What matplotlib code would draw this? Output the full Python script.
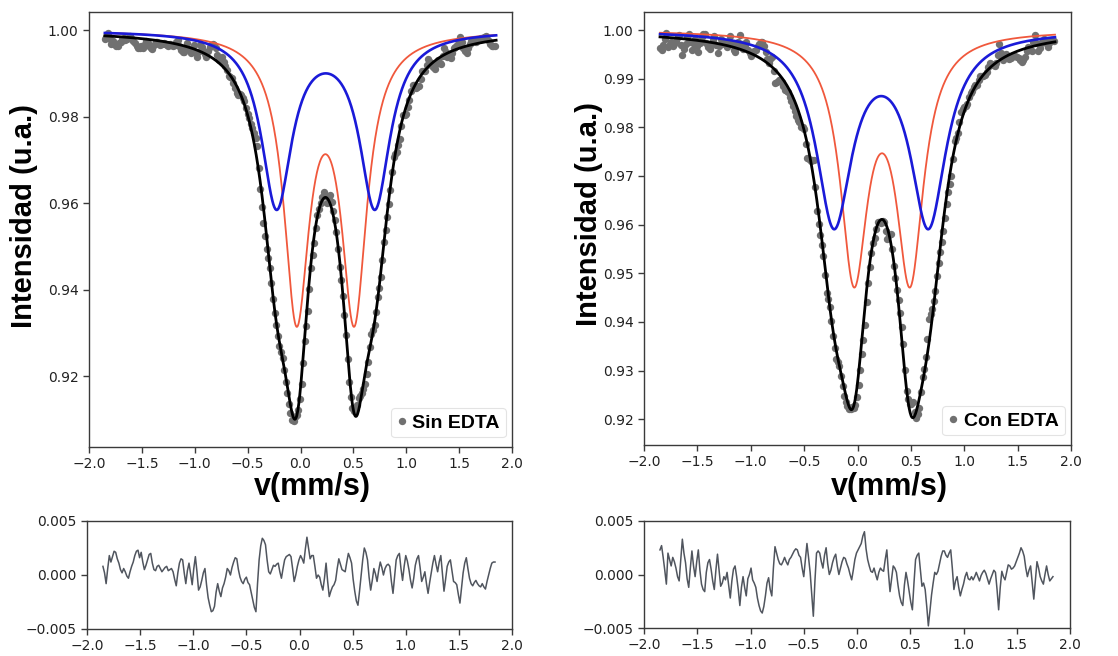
import numpy as np
import matplotlib.pyplot as plt

# ---------------- data ----------------
# velocity channels (mm/s)
velocity = np.round(np.arange(247) * 0.015 - 1.85, 4)

# doublet sub-spectra: line positions (mm/s), depth, half width (mm/s)
sin_red_pos = [-0.037, 0.508]
sin_red_depth = 0.0643
sin_red_hwhm = 0.146
sin_blue_pos = [-0.226, 0.703]
sin_blue_depth = 0.0402
sin_blue_hwhm = 0.175

con_red_pos = [-0.033, 0.492]
con_red_depth = 0.049
con_red_hwhm = 0.155
con_blue_pos = [-0.220, 0.664]
con_blue_depth = 0.039
con_blue_hwhm = 0.203

# fit residuals (fit - measured) in units of 1e-4, one per channel
resid_sin_e4 = [
    8, 2, -8, 6, 18, 12, 17, 22, 21, 15, 11, 5, 2, 6, 3, -1, -3, 3, 8, 12,
    18, 22, 23, 16, 21, 12, 5, 9, 14, 19, 20, 11, 5, 4, 8, 9, 6, 3, 5, 7,
    8, 4, 5, 6, 3, -4, -10, 2, 11, 15, 14, 2, -8, 4, 11, 1, -9, 6, 17, 3,
    -14, -11, -5, 2, 6, -9, -21, -28, -34, -33, -29, -16, -8, -15, -20, -12, -8, -2, 6, 4,
    0, 7, 12, 16, 15, 5, -2, -6, -8, -4, -2, -7, -9, -16, -23, -30, -34, -8, 14, 27,
    34, 32, 28, 14, 3, 1, 5, 9, 8, 10, 11, 3, -3, 6, 14, 17, 18, 19, 17, 6,
    -6, 0, 8, 14, 18, 15, 11, 24, 35, 25, 15, 18, 18, 8, -3, 0, -2, -9, -14, -3,
    11, -6, -20, -15, -11, -9, -5, 6, 15, 10, 5, 4, 3, 12, 20, 16, 11, -4, -15, -24,
    -28, -15, 0, 14, 25, 21, 14, -2, -14, -5, 6, 1, -6, 4, 12, 7, 0, 6, 9, 10,
    8, -6, -17, -2, 14, 18, 20, 6, -5, 8, 18, 13, 5, -5, -12, -3, 9, 15, 18, 7,
    -6, -2, 3, -8, -17, -7, 2, 11, 18, 10, 3, 12, 18, 2, -15, -4, 8, 12, 14, 4,
    -6, -7, -9, -18, -26, -12, 2, 11, 16, 6, -3, -8, -10, -7, -5, -8, -10, -11, -8, -11,
    -13, -6, 0, 6, 11, 12, 12,
]
resid_con_e4 = [
    23, 27, 16, 4, -9, 20, 14, 8, 16, 12, 6, -2, -6, 14, 33, 20, 11, -4, -12, 6,
    22, 8, -2, 12, 23, 4, -9, -14, -16, 2, 11, 14, 5, -6, -14, 4, 19, 4, -11, -8,
    -2, -5, 2, -10, -22, -6, 5, 8, -2, -14, -29, -12, -2, -12, -20, -4, 0, 6, -5, -8,
    -12, -22, -29, -34, -36, -30, -20, -8, -3, -14, -20, 6, 26, 20, 14, 10, 9, 12, 16, 12,
    9, 14, 16, 19, 22, 24, 23, 18, 16, 6, -2, 14, 29, 16, 2, -18, -39, -6, 20, 22,
    20, 12, 6, 18, 25, 10, 0, 4, 11, 16, 19, 8, 0, 6, 12, 16, 15, 10, 6, 0,
    -5, 4, 14, 20, 23, 26, 29, 36, 40, 24, 14, 8, 3, 2, 6, 0, -5, 2, 6, 4,
    3, 14, 23, 2, -16, -4, 8, 6, 2, -10, -20, -26, -29, -10, 2, -6, -16, -26, -33, -8,
    14, 18, 20, 4, -11, -8, -14, -30, -48, -34, -19, -8, 2, 0, 3, 10, 17, 22, 22, 18,
    16, 20, 23, 6, -14, -6, -2, -12, -20, -14, -9, -2, 2, -4, -5, -2, -5, -2, 2, -2,
    -6, -1, 2, 4, 1, -4, -9, -4, 0, 4, 2, -14, -33, -12, 3, -2, -5, 2, 9, 8,
    5, 6, 8, 12, 16, 20, 25, 22, 17, 6, -2, 4, 8, -8, -23, -6, 12, 6, -2, -6,
    -9, 0, 8, 0, -6, -4, -2,
]

x_ticks = [-2.0, -1.5, -1.0, -0.5, 0.0, 0.5, 1.0, 1.5, 2.0]
sin_y_ticks = [0.92, 0.94, 0.96, 0.98, 1.00]
con_y_ticks = [0.92, 0.93, 0.94, 0.95, 0.96, 0.97, 0.98, 0.99, 1.00]
res_y_ticks = [-0.005, 0.000, 0.005]


def doublet(x, positions, depth, hwhm):
    """Absorption of a Lorentzian quadrupole doublet."""
    x = np.asarray(x, dtype=float)
    return sum(depth * hwhm ** 2 / ((x - p) ** 2 + hwhm ** 2) for p in positions)


# ---------------- figure ----------------
W, H = 1118, 656
fig = plt.figure(figsize=(W / 100, H / 100), dpi=100)
fig.patch.set_facecolor('white')


def px_axes(left, top, right, bottom):
    return fig.add_axes([left / W, 1 - bottom / H, (right - left) / W, (bottom - top) / H])


RED = '#f0583c'
BLUE = '#1a1ad8'
DOT = '#707070'
SPINE = '#3a3a3a'
TICKSIZE = 10
BOLD_FAMILY = ['Liberation Sans', 'DejaVu Sans']

panels = [
    dict(main=(89, 12, 512, 447), res=(87, 521, 512, 629),
         red=(sin_red_pos, sin_red_depth, sin_red_hwhm),
         blue=(sin_blue_pos, sin_blue_depth, sin_blue_hwhm),
         resid=np.asarray(resid_sin_e4) * 1e-4, yticks=sin_y_ticks, ylim=(0.9036, 1.0042),
         label='Sin EDTA', ylab_xy=(24, 216), xlab_xy=(312, 487)),
    dict(main=(644, 12, 1071, 445), res=(644, 521, 1070, 628),
         red=(con_red_pos, con_red_depth, con_red_hwhm),
         blue=(con_blue_pos, con_blue_depth, con_blue_hwhm),
         resid=np.asarray(resid_con_e4) * 1e-4, yticks=con_y_ticks, ylim=(0.9147, 1.0037),
         label='Con EDTA', ylab_xy=(589, 214), xlab_xy=(889, 487)),
]


def style_axes(ax):
    for s in ax.spines.values():
        s.set_color(SPINE)
        s.set_linewidth(1.0)
    ax.tick_params(direction='out', length=4, width=1, color=SPINE,
                   labelcolor='#222222', labelsize=TICKSIZE)


v_fine = np.linspace(-1.85, 1.85, 800)

for p in panels:
    ax = px_axes(*p['main'])
    red_fine = doublet(v_fine, *p['red'])
    blue_fine = doublet(v_fine, *p['blue'])
    total_fine = 1 - red_fine - blue_fine

    total_ch = 1 - doublet(velocity, *p['red']) - doublet(velocity, *p['blue'])
    measured = total_ch - p['resid']

    ax.plot(velocity, measured, 'o', color=DOT, markersize=5.3, markeredgewidth=0,
            label=p['label'], zorder=2)
    ax.plot(v_fine, 1 - red_fine, color=RED, lw=1.3, zorder=3)
    ax.plot(v_fine, 1 - blue_fine, color=BLUE, lw=1.9, zorder=4)
    ax.plot(v_fine, total_fine, color='black', lw=2.0, zorder=5)

    ax.set_xlim(-2.0, 2.0)
    ax.set_ylim(*p['ylim'])
    ax.set_xticks(x_ticks)
    ax.set_yticks(p['yticks'])
    ax.set_yticklabels([f'{t:.2f}' for t in p['yticks']])
    style_axes(ax)

    leg = ax.legend(loc='lower right', bbox_to_anchor=(0.985, 0.022), borderaxespad=0,
                    handlelength=0.5, handletextpad=0.3, borderpad=0.3,
                    markerscale=1.0, frameon=True, fancybox=True,
                    prop=dict(family=BOLD_FAMILY, weight='bold', size=14))
    leg.get_frame().set_edgecolor('#dddddd')
    leg.get_frame().set_linewidth(0.8)

    fig.text(p['ylab_xy'][0] / W, 1 - p['ylab_xy'][1] / H, 'Intensidad (u.a.)',
             rotation=90, ha='center', va='center',
             family=BOLD_FAMILY, weight='bold', size=21)
    fig.text(p['xlab_xy'][0] / W, 1 - p['xlab_xy'][1] / H, 'v(mm/s)',
             ha='center', va='center', family=BOLD_FAMILY, weight='bold', size=22)

    # residuals
    axr = px_axes(*p['res'])
    axr.plot(velocity, p['resid'], color='#50555e', lw=1.1)
    axr.set_xlim(-2.0, 2.0)
    axr.set_ylim(-0.005, 0.005)
    axr.set_xticks(x_ticks)
    axr.set_yticks(res_y_ticks)
    axr.set_yticklabels([f'{t:.3f}'.replace('-', '\u2212') for t in res_y_ticks])
    style_axes(axr)

fig.savefig('out.png', dpi=100, facecolor='white')
